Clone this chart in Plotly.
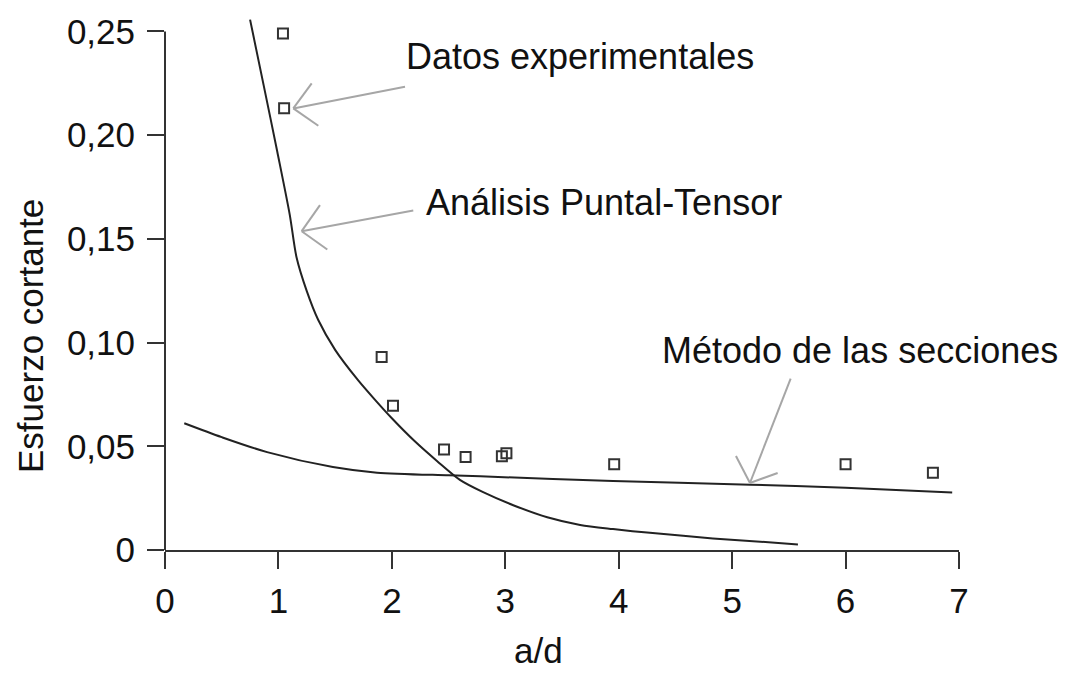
import plotly.graph_objects as go

# ---- data ----
datos_x = [1.04, 1.05, 1.91, 2.01, 2.46, 2.65, 2.97, 3.01, 3.96, 6.00, 6.77]
datos_y = [0.249, 0.213, 0.093, 0.0695, 0.0485, 0.0448, 0.0452, 0.0467, 0.0413, 0.0413, 0.0373]

puntal_x = [0.75, 0.87, 0.99, 1.10, 1.16, 1.25, 1.35, 1.50, 1.70, 1.85, 2.00,
            2.20, 2.40, 2.60, 2.80, 3.07, 3.37, 3.66, 3.95, 4.25, 4.83, 5.58]
puntal_y = [0.2557, 0.224, 0.192, 0.1616, 0.141, 0.1248, 0.111, 0.0965, 0.082,
            0.0725, 0.0635, 0.0525, 0.0428, 0.0338, 0.0280, 0.0216, 0.0158, 0.0121,
            0.0101, 0.0084, 0.0056, 0.0027]

metodo_x = [0.17, 0.50, 0.90, 1.48, 1.87, 2.50, 2.78, 3.95, 5.16, 6.00, 6.94]
metodo_y = [0.0611, 0.0544, 0.0472, 0.0400, 0.0373, 0.0360, 0.0355, 0.0333, 0.0315, 0.0300, 0.0277]

x_ticks = [0, 1, 2, 3, 4, 5, 6, 7]
y_ticks = [0, 0.05, 0.10, 0.15, 0.20, 0.25]
y_ticktext = ["0", "0,05", "0,10", "0,15", "0,20", "0,25"]

# annotation labels: (text, x, y) in data units
labels = [
    ("Datos experimentales", 2.105, 0.2381),
    ("Análisis Puntal-Tensor", 2.281, 0.1674),
    ("Método de las secciones", 4.362, 0.0964),
]
# arrows: tip (data units), tail offset and two head-arm offsets (pixels)
arrows = [
    ((1.131, 0.2129), (111.7, 21.7), (18.4, 25.0), (25.0, -17.3)),
    ((1.205, 0.1537), (111.6, 20.7), (18.3, 26.0), (25.6, -18.3)),
    ((5.157, 0.0323), (40.7, 104.4), (-14.0, 27.0), (27.7, 10.0)),
]

FONT = "Liberation Sans, Arial, sans-serif"
FS = 35
FS_LABEL = 36
INK = "#222222"
ARROW = "#a6a6a6"

fig = go.Figure()
fig.add_trace(go.Scatter(x=puntal_x, y=puntal_y, mode="lines",
                         line=dict(color=INK, width=2, shape="spline", smoothing=0.8),
                         showlegend=False))
fig.add_trace(go.Scatter(x=metodo_x, y=metodo_y, mode="lines",
                         line=dict(color=INK, width=2, shape="spline", smoothing=0.8),
                         showlegend=False))
fig.add_trace(go.Scatter(x=datos_x, y=datos_y, mode="markers",
                         marker=dict(symbol="square-open", size=10, color="#333333",
                                     line=dict(width=2, color="#333333")),
                         showlegend=False))

for text, x, y in labels:
    fig.add_annotation(x=x, y=y, xref="x", yref="y", text=text, showarrow=False,
                       xanchor="left", yanchor="middle",
                       font=dict(family=FONT, size=FS_LABEL, color="#111111"))

for tip, tail, a1, a2 in arrows:
    for off in (tail, a1, a2):
        fig.add_shape(type="line", xref="x", yref="y",
                      xsizemode="pixel", ysizemode="pixel",
                      xanchor=tip[0], yanchor=tip[1],
                      x0=0, y0=0, x1=off[0], y1=off[1],
                      line=dict(color=ARROW, width=2))

# y axis line from 0 to 0.25
fig.add_shape(type="line", xref="paper", yref="y", x0=0, x1=0, y0=0, y1=0.25,
              line=dict(color="#333333", width=2), layer="above")

fig.add_annotation(x=0.471, y=-0.1895, xref="paper", yref="paper", text="a/d",
                   showarrow=False, xanchor="center", yanchor="middle",
                   font=dict(family=FONT, size=FS, color="#111111"))
fig.add_annotation(x=-0.170, y=0.403, xref="paper", yref="paper", text="Esfuerzo cortante",
                   showarrow=False, textangle=-90, xanchor="center", yanchor="middle",
                   font=dict(family=FONT, size=FS, color="#111111"))

fig.update_xaxes(range=[0, 7], tickvals=x_ticks, showgrid=False, zeroline=False,
                 showline=True, linecolor="#333333", linewidth=2,
                 ticks="outside", ticklen=17, tickwidth=2, tickcolor="#333333",
                 ticklabelstandoff=2,
                 tickfont=dict(family=FONT, size=FS, color="#111111"))
fig.update_yaxes(range=[0, 0.256], tickvals=y_ticks, ticktext=y_ticktext,
                 showgrid=False, zeroline=False, showline=False,
                 ticks="outside", ticklen=17, tickwidth=2, tickcolor="#333333",
                 ticklabelstandoff=5,
                 tickfont=dict(family=FONT, size=FS, color="#111111"))

fig.update_layout(width=1067, height=673, plot_bgcolor="white", paper_bgcolor="white",
                  margin=dict(l=165, r=108, t=17, b=123), showlegend=False)

fig.write_html("out.html")
